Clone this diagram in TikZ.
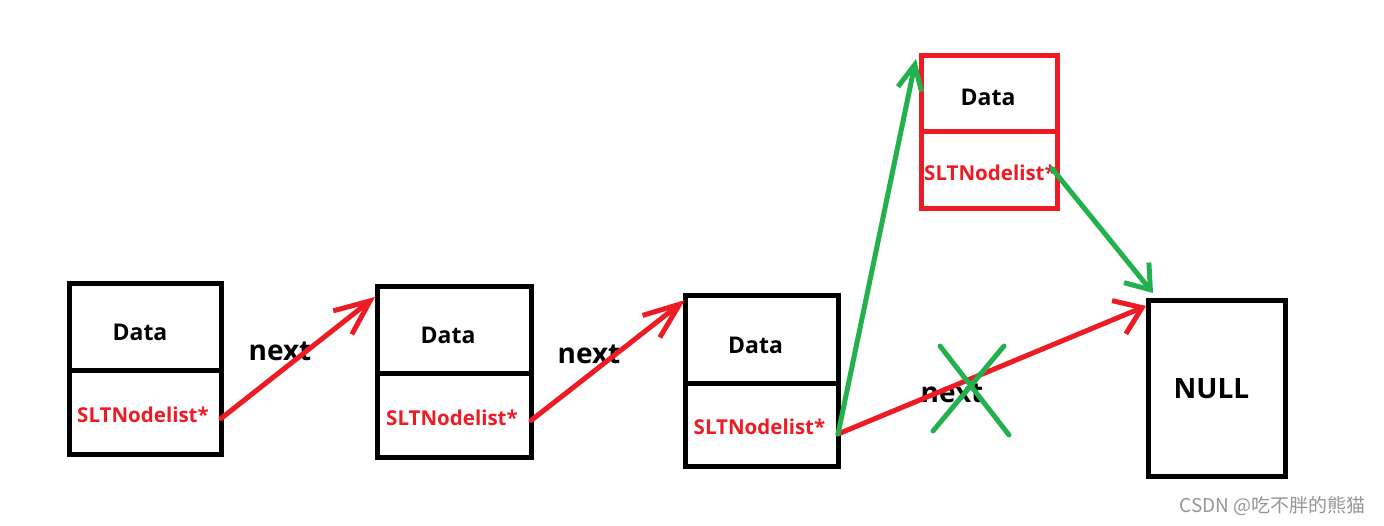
\documentclass[tikz,border=0pt]{standalone}
\usepackage{fontspec}
\setmainfont{Open Sans}
\newfontfamily\cjk{Noto Sans CJK SC}
\usetikzlibrary{arrows.meta}
\definecolor{pred}{RGB}{237,28,36}
\definecolor{pgreen}{RGB}{34,177,76}
\definecolor{wmgray}{RGB}{150,150,150}
\tikzset{
  cell/.style={draw, line width=5pt, inner sep=0pt, outer sep=0pt, anchor=north west},
  datatxt/.style={font=\fontsize{23}{27}\selectfont\bfseries, inner sep=0pt},
  ptrtxt/.style={font=\fontsize{20.5}{24}\selectfont\bfseries, text=pred, inner sep=0pt},
  nexttxt/.style={font=\fontsize{28}{32}\selectfont\bfseries},
  redlink/.style={draw=pred, line width=5pt, line cap=round, line join=round},
  greenlink/.style={draw=pgreen, line width=5pt, line cap=round, line join=round},
}
\begin{document}
\begin{tikzpicture}[x=1pt,y=-1pt]
\useasboundingbox (0,0) rectangle (1384,526);
% box 1
\node[cell, minimum width=152pt, minimum height=87pt] (d1) at (69,284) {};
\node[cell, minimum width=152pt, minimum height=83pt] (p1) at (69,371) {};
% box 2
\node[cell, minimum width=154pt, minimum height=87pt] (d2) at (377,287) {};
\node[cell, minimum width=154pt, minimum height=83pt] (p2) at (377,374) {};
% box 3
\node[cell, minimum width=153pt, minimum height=88pt] (d3) at (685,296) {};
\node[cell, minimum width=153pt, minimum height=82pt] (p3) at (685,384) {};
% box 4 (new, red)
\node[cell, draw=pred, minimum width=136pt, minimum height=76pt] (d4) at (921,56) {};
\node[cell, draw=pred, minimum width=136pt, minimum height=77pt] (p4) at (921,132) {};
% NULL
\node[cell, minimum width=137pt, minimum height=175pt] (nl) at (1148,301) {};

% texts in the boxes
\node[datatxt] (t1) at ([xshift=-5pt,yshift=-5pt]d1.center) {Data};
\node[datatxt] (t2) at ([xshift=-6pt,yshift=-5pt]d2.center) {Data};
\node[datatxt] (t3) at ([xshift=-6pt,yshift=-5pt]d3.center) {Data};
\node[datatxt] (t4) at ([xshift=-1pt,yshift=-3pt]d4.center) {Data};
\node[ptrtxt] (s1) at ([xshift=-2pt,yshift=-2pt]p1.center) {SLTNodelist*};
\node[ptrtxt] (s2) at ([xshift=-2pt,yshift=-2pt]p2.center) {SLTNodelist*};
\node[ptrtxt] (s3) at ([xshift=-2pt,yshift=-2pt]p3.center) {SLTNodelist*};
\node[ptrtxt] (s4) at ([xshift=1pt,yshift=-2pt]p4.center) {SLTNodelist*};
\node[font=\fontsize{28}{32}\selectfont\bfseries] (tn) at ([xshift=-5pt]nl.center) {NULL};

% next labels
\node[nexttxt] (n1) at (280,351) {next};
\node[nexttxt] (n2) at (589,354) {next};
\node[nexttxt] (n3) at (952,393) {next};

% red links
\draw[redlink, -{Straight Barb[length=35pt,width=30pt]}] ([yshift=-6pt]p1.east) -- ([xshift=-2pt,yshift=-10pt]d2.north west);
\draw[redlink, -{Straight Barb[length=36pt,width=28pt]}] ([yshift=-5pt]p2.east) -- ([yshift=-4pt]d3.north west);
\draw[redlink, -{Straight Barb[length=25pt,width=36pt]}] ([yshift=-9pt]p3.east) -- ([xshift=-2pt,yshift=-5pt]nl.north west);

% green links
\draw[greenlink, -{Straight Barb[length=25pt,width=24pt]}] ([yshift=-9pt]p3.east) -- ([xshift=-5pt,yshift=-3pt]d4.north west);
\draw[greenlink, -{Straight Barb[length=22pt,width=32pt]}] ([xshift=-5pt,yshift=2pt]p4.east) -- ([xshift=5pt,yshift=8pt]nl.north west);

% green cross over the old link
\coordinate (xa) at (940,346);
\coordinate (xb) at (1009,435);
\coordinate (xc) at (1004,346);
\coordinate (xd) at (933,431);
\draw[greenlink] (xa) -- (xb);
\draw[greenlink] (xc) -- (xd);

% watermark
\node[text=wmgray, font=\cjk\fontsize{19}{21}\selectfont, anchor=east] (wm) at (1369,506) {CSDN @吃不胖的熊猫};
\end{tikzpicture}
\end{document}
